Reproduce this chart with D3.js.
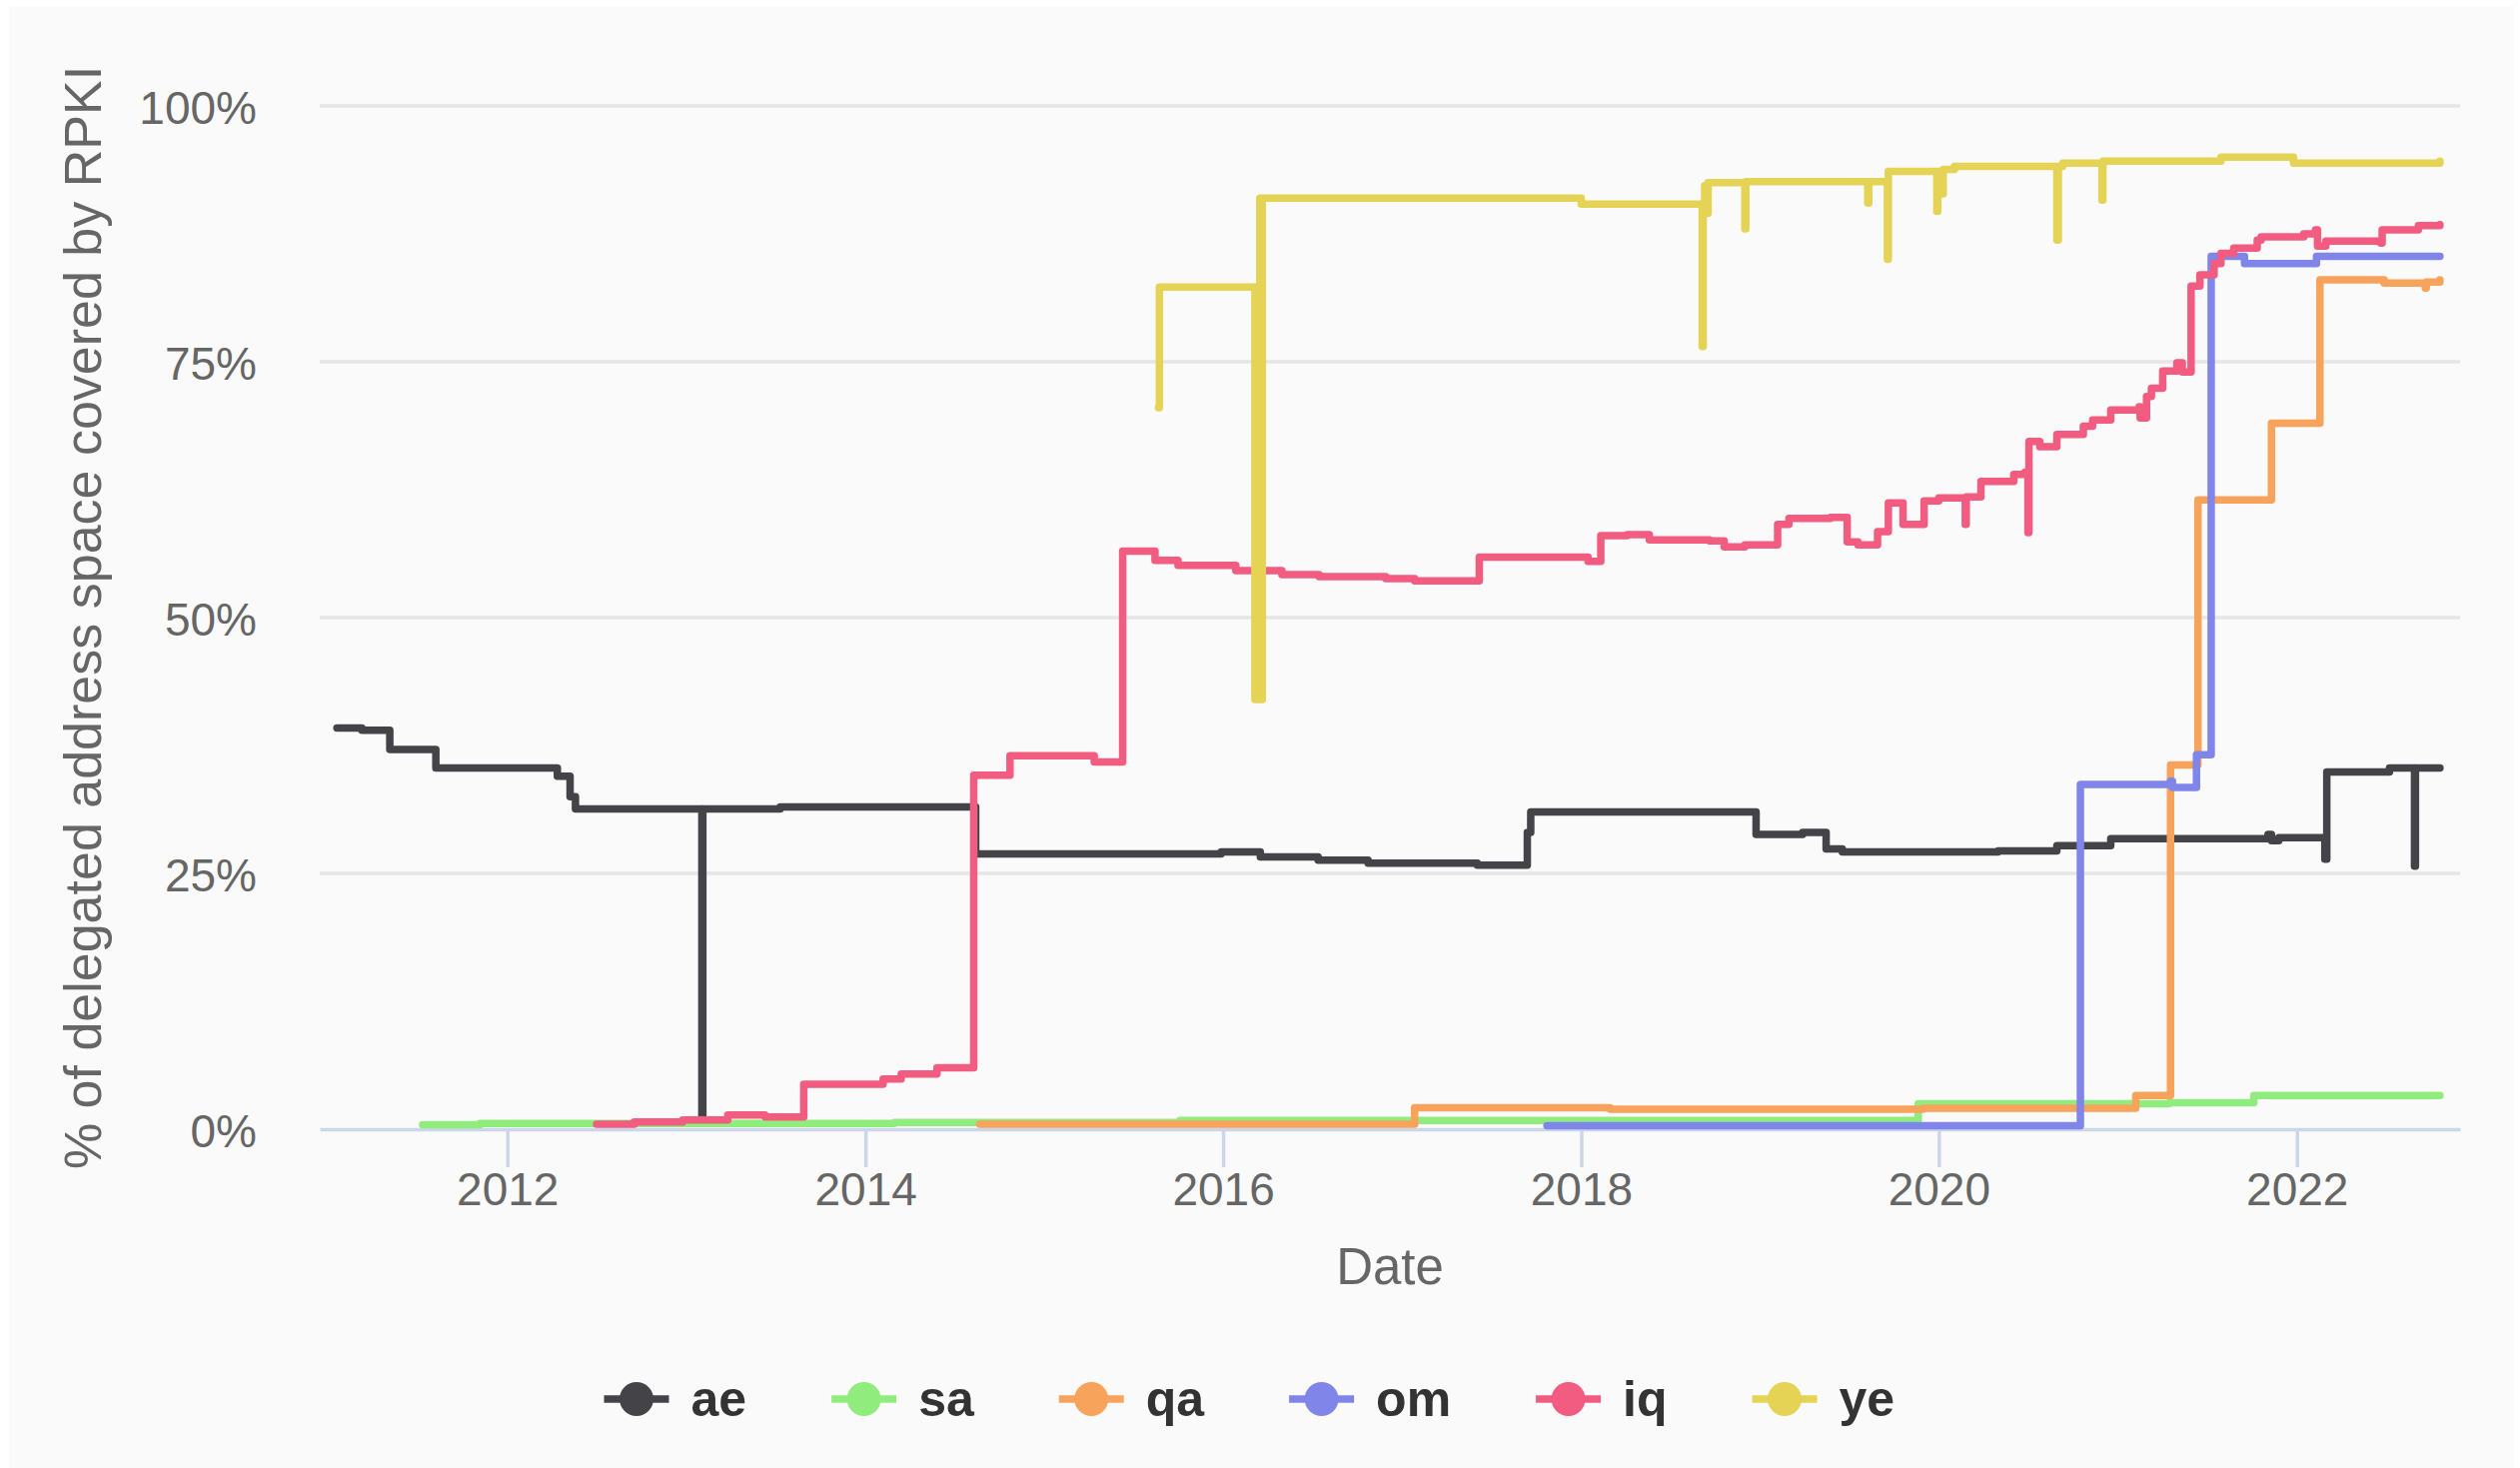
<!DOCTYPE html>
<html>
<head>
<meta charset="utf-8">
<script src="https://cdn.jsdelivr.net/npm/d3@7"></script>
<style>
html, body { margin: 0; padding: 0; background: #ffffff; }
svg { display: block; font-family: "Liberation Sans", Arial, sans-serif; }
</style>
</head>
<body>
<svg id="chart" width="2522" height="1469"></svg>
<script>
var names  = ["ae", "sa", "qa", "om", "iq", "ye"];
var colors = ["#434348", "#90ed7d", "#f7a35c", "#8085e9", "#f15c80", "#e4d354"];
var yTicks = [0, 25, 50, 75, 100];
var yTickLabels = ["0%", "25%", "50%", "75%", "100%"];
var xDomain = ["2010-12-14", "2022-11-30"];

// [date, % covered]
var aeData = [
  ["2011-01-18",39.2],["2011-03-10",39.0],["2011-05-06",37.1],["2011-08-08",35.3],
  ["2012-04-12",34.5],["2012-05-08",32.5],["2012-05-19",31.3],["2013-02-01",1.0],
  ["2013-02-03",31.3],["2013-07-11",31.5],["2014-08-14",26.9],["2015-12-28",27.1],
  ["2016-03-17",26.6],["2016-07-13",26.3],["2016-10-23",26.0],["2017-06-03",25.8],
  ["2017-09-13",29.0],["2017-09-20",31.0],["2018-12-24",28.8],["2019-03-29",29.0],
  ["2019-05-16",27.4],["2019-06-18",27.1],["2020-05-01",27.2],["2020-08-29",27.7],
  ["2020-12-17",28.4],["2021-11-03",28.8],["2021-11-10",28.2],["2021-11-25",28.5],
  ["2022-02-27",26.4],["2022-03-03",34.9],["2022-07-09",35.3],["2022-08-29",25.7],
  ["2022-08-31",35.3],["2022-10-20",35.3]
];
var saData = [
  ["2011-07-12",0.45],["2011-11-06",0.55],["2014-03-01",0.65],["2015-10-05",0.85],
  ["2019-11-20",2.5],["2021-04-15",2.6],["2021-10-05",3.3],["2022-10-20",3.3]
];
var qaData = [
  ["2014-08-22",0.5],["2017-01-26",2.1],["2018-03-01",1.95],["2019-11-30",2.05],
  ["2021-02-06",3.3],["2021-04-18",35.6],["2021-06-13",61.5],["2021-11-10",69.0],
  ["2022-02-17",83.0],["2022-06-28",82.7],["2022-09-20",82.2],["2022-09-22",82.8],
  ["2022-10-20",83.0]
];
var omData = [
  ["2017-10-23",0.35],["2020-10-16",33.7],["2021-04-18",34.0],["2021-04-22",33.4],
  ["2021-06-10",36.6],["2021-07-10",85.3],["2021-09-16",84.6],["2022-02-10",85.3],
  ["2022-10-20",85.3]
];
var iqData = [
  ["2012-07-01",0.5],["2012-09-16",0.7],["2012-12-24",0.9],["2013-03-26",1.4],
  ["2013-06-10",1.2],["2013-08-28",4.4],["2014-02-06",4.9],["2014-03-15",5.4],
  ["2014-05-27",6.0],["2014-08-10",34.6],["2014-10-23",36.5],["2015-04-13",35.9],
  ["2015-06-10",56.5],["2015-08-15",55.6],["2015-10-01",55.1],["2016-01-27",54.6],
  ["2016-04-30",54.2],["2016-07-15",54.0],["2016-11-28",53.8],["2017-01-26",53.6],
  ["2017-06-07",55.9],["2018-01-15",55.5],["2018-02-10",58.0],["2018-04-05",58.1],
  ["2018-05-20",57.6],["2018-09-20",57.5],["2018-10-20",56.9],["2018-12-01",57.1],
  ["2019-02-06",59.1],["2019-03-01",59.7],["2019-05-25",59.8],["2019-06-28",57.4],
  ["2019-07-20",57.1],["2019-08-29",58.4],["2019-09-20",61.2],["2019-10-20",59.1],
  ["2019-12-02",61.4],["2020-01-01",61.7],["2020-02-24",59.1],["2020-02-26",61.8],
  ["2020-03-27",63.3],["2020-06-02",64.0],["2020-06-25",64.2],["2020-07-01",58.3],
  ["2020-07-03",67.2],["2020-07-25",66.7],["2020-08-29",67.9],["2020-10-22",68.7],
  ["2020-11-10",69.3],["2020-12-17",70.3],["2021-02-13",70.6],["2021-02-15",69.5],
  ["2021-02-28",71.6],["2021-03-10",72.4],["2021-04-02",74.1],["2021-05-01",74.9],
  ["2021-05-12",74.0],["2021-05-30",82.4],["2021-06-17",83.5],["2021-07-16",84.6],
  ["2021-07-30",85.6],["2021-08-25",86.1],["2021-10-12",86.9],["2021-10-20",87.2],
  ["2022-01-15",87.5],["2022-02-08",87.9],["2022-02-12",86.3],["2022-03-01",86.8],
  ["2022-06-21",86.6],["2022-06-24",87.9],["2022-09-06",88.3],["2022-10-20",88.4]
];
var yeData = [
  ["2015-08-22",70.5],["2015-08-24",82.3],["2016-03-04",82.3],["2016-03-06",42.0],
  ["2016-03-08",82.3],["2016-03-10",42.0],["2016-03-12",82.3],["2016-03-14",42.0],
  ["2016-03-16",91.0],["2016-03-18",42.0],["2016-03-21",91.0],["2018-01-01",90.4],
  ["2018-09-05",76.5],["2018-09-07",90.0],["2018-09-10",92.2],["2018-09-14",89.5],
  ["2018-09-17",92.5],["2018-12-01",88.0],["2018-12-03",92.6],["2019-08-09",90.5],
  ["2019-08-11",92.6],["2019-09-18",85.0],["2019-09-20",93.6],["2019-12-28",89.7],
  ["2019-12-30",93.6],["2020-01-05",91.4],["2020-01-10",93.8],["2020-02-02",94.1],
  ["2020-08-29",86.9],["2020-09-01",94.1],["2020-09-10",94.4],["2020-11-29",90.8],
  ["2020-12-01",94.6],["2021-07-30",95.0],["2021-12-25",94.4],["2022-10-20",94.6]
];
var allData = [aeData, saData, qaData, omData, iqData, yeData];

var parse = d3.timeParse("%Y-%m-%d");
var svg = d3.select("#chart");

var plotLeft = 320, plotRight = 2462, plotTop = 106, plotBottom = 1130;
var lineWidth = 7.5;

svg.append("rect")
  .attr("x", 9).attr("y", 7)
  .attr("width", 2507).attr("height", 1462)
  .attr("fill", "#fafafa");

var x = d3.scaleTime()
  .domain(xDomain.map(parse))
  .range([plotLeft, plotRight]);
var y = d3.scaleLinear()
  .domain([0, 100])
  .range([plotBottom, plotTop]);

// grid
svg.append("g").selectAll("line")
  .data(yTicks.filter(function(t){ return t > 0; }))
  .join("line")
  .attr("x1", plotLeft).attr("x2", plotRight)
  .attr("y1", function(d){ return y(d); })
  .attr("y2", function(d){ return y(d); })
  .attr("stroke", "#e6e6e6")
  .attr("stroke-width", 3.5);

svg.append("g").selectAll("text")
  .data(yTicks)
  .join("text")
  .attr("x", 257)
  .attr("y", function(d){ return y(d) + 18; })
  .attr("text-anchor", "end")
  .attr("font-size", 46)
  .attr("fill", "#666666")
  .text(function(d, i){ return yTickLabels[i]; });

// x axis
var xAxis = d3.axisBottom(x)
  .ticks(d3.timeYear.every(2))
  .tickFormat(d3.timeFormat("%Y"))
  .tickSize(38)
  .tickSizeOuter(0);

var gx = svg.append("g")
  .attr("transform", "translate(0," + plotBottom + ")")
  .call(xAxis);
gx.select(".domain").attr("stroke", "#ccd6eb").attr("stroke-width", 3.5);
gx.selectAll(".tick line").attr("stroke", "#ccd6eb").attr("stroke-width", 3.5);
gx.selectAll(".tick text")
  .attr("font-family", "Liberation Sans, Arial, sans-serif")
  .attr("font-size", 46)
  .attr("fill", "#666666")
  .attr("dy", null)
  .attr("y", 76);

svg.append("text")
  .attr("x", (plotLeft + plotRight) / 2)
  .attr("y", 1285)
  .attr("text-anchor", "middle")
  .attr("font-size", 51)
  .attr("fill", "#666666")
  .text("Date");

svg.append("text")
  .attr("transform", "translate(101," + ((plotTop + plotBottom) / 2) + ") rotate(-90)")
  .attr("text-anchor", "middle")
  .attr("font-size", 52)
  .attr("fill", "#666666")
  .text("% of delegated address space covered by RPKI");

// series
var line = d3.line()
  .x(function(d){ return x(parse(d[0])); })
  .y(function(d){ return y(d[1]); })
  .curve(d3.curveStepAfter);

svg.append("g").selectAll("path")
  .data(allData)
  .join("path")
  .attr("d", line)
  .attr("fill", "none")
  .attr("stroke", function(d, i){ return colors[i]; })
  .attr("stroke-width", lineWidth)
  .attr("stroke-linejoin", "round")
  .attr("stroke-linecap", "round");

// legend
var legend = svg.append("g");
var lx = 604.5, ly = 1400;
names.forEach(function(name, i) {
  var item = legend.append("g").attr("transform", "translate(" + lx + "," + ly + ")");
  item.append("line")
    .attr("x1", 0).attr("x2", 65)
    .attr("stroke", colors[i])
    .attr("stroke-width", lineWidth);
  item.append("circle")
    .attr("cx", 32.5).attr("r", 17)
    .attr("fill", colors[i]);
  var t = item.append("text")
    .attr("x", 87).attr("y", 17)
    .attr("font-size", 50)
    .attr("font-weight", "bold")
    .attr("fill", "#333333")
    .text(name);
  lx += 87 + t.node().getComputedTextLength() + 85;
});
</script>
</body>
</html>
